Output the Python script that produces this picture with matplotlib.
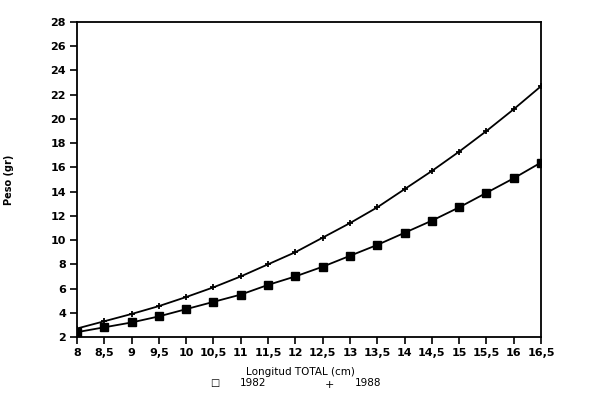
import matplotlib
matplotlib.use("Agg")
import matplotlib.pyplot as plt
import numpy as np

longitud = [8, 8.5, 9, 9.5, 10, 10.5, 11, 11.5, 12, 12.5, 13, 13.5, 14, 14.5, 15, 15.5, 16, 16.5]
peso_1982 = [2.4, 2.8, 3.2, 3.7, 4.3, 4.9, 5.5, 6.3, 7.0, 7.8, 8.7, 9.6, 10.6, 11.6, 12.7, 13.9, 15.1, 16.4]
peso_1988 = [2.7, 3.3, 3.9, 4.55, 5.3, 6.1, 7.0, 8.0, 9.0, 10.2, 11.4, 12.7, 14.2, 15.7, 17.3, 19.0, 20.8, 22.7]
xtick_labels = ["8", "8,5", "9", "9,5", "10", "10,5", "11", "11,5", "12", "12,5", "13", "13,5", "14", "14,5", "15", "15,5", "16", "16,5"]
yticks = list(range(2, 29, 2))

plt.rcParams['font.family'] = ['DejaVu Sans']
fig = plt.figure(figsize=(6.0, 3.99), dpi=100)
ax = fig.add_axes([77/600, 1-337/399, (541-77)/600, (337-22)/399])

ax.plot(longitud, peso_1982, color='black', lw=1.3, marker='s', ms=5.2, mfc='black', mec='black')
ax.plot(longitud, peso_1988, color='black', lw=1.3, marker='+', ms=5, mew=1.3)

ax.set_xlim(8, 16.5)
ax.set_ylim(2, 28)
ax.set_xticks(longitud)
ax.set_xticklabels(xtick_labels, fontsize=8, fontweight='bold')
ax.set_yticks(yticks)
ax.set_yticklabels([str(v) for v in yticks], fontsize=8, fontweight='bold')
ax.tick_params(direction='out', length=5, width=1.2, pad=3)
for s in ax.spines.values():
    s.set_linewidth(1.3)

ax.set_ylabel("Peso (gr)", fontsize=7, fontweight='bold')
ax.yaxis.set_label_coords(-0.135, 0.5)
fig.text(300/600, 1-372/399, "Longitud TOTAL (cm)", fontsize=7.5, ha='center', va='center')
fig.text(215/600, 1-383/399, "\u25a1", fontsize=7, ha='center', va='center')
fig.text(240/600, 1-383/399, "1982", fontsize=7.5, ha='left', va='center')
fig.text(329/600, 1-385/399, "+", fontsize=8, ha='center', va='center')
fig.text(355/600, 1-383/399, "1988", fontsize=7.5, ha='left', va='center')

fig.savefig("out.png", dpi=100)
